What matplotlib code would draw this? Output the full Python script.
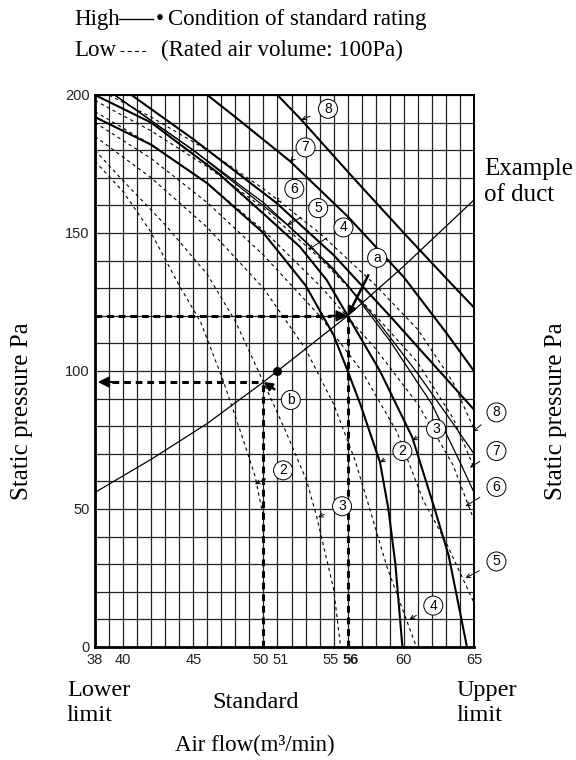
import matplotlib
matplotlib.use("Agg")
import matplotlib.pyplot as plt
from matplotlib.lines import Line2D
from matplotlib.transforms import ScaledTranslation

# ---------------- data ----------------
x_ticks = [38, 40, 45, 50, 51, 55, 56, 60, 65]
y_ticks = [0, 50, 100, 150, 200]

# High (solid) curves: (Q, P) points
H2_q = [38, 42, 46, 50, 53, 55, 56, 56.9, 58.3, 58.9, 59.4, 59.9]
H2_p = [192, 182, 168, 150, 131, 113, 100, 88, 67, 50, 30, 0]
H3_q = [38, 42, 46.7, 50, 52.6, 54.5, 56, 58.3, 60.6, 62.2, 63.2, 64.5]
H3_p = [200, 190, 172, 157, 145, 133, 120, 100, 76, 50, 33, 0]
H4_q = [39.4, 45, 50, 53.2, 56, 59, 62, 64, 65]
H4_p = [200, 180, 161, 146, 131, 111, 88, 67, 56]
H5_q = [39.4, 45, 51.7, 55, 58, 61, 63.5, 65]
H5_p = [200, 180, 153, 137, 119, 99, 81, 70]
H6_q = [40.6, 45, 50.9, 55, 59, 62, 65]
H6_p = [200, 184, 161, 142, 120, 103, 86]
H7_q = [46, 48, 51.9, 56, 60, 63, 65]
H7_p = [200, 192, 176, 156, 134, 114, 100]
H8_q = [51, 52.7, 56.4, 60, 63.5, 65]
H8_p = [200, 191, 170, 150, 131, 123]

# Low (dashed) curves
L2_q = [38, 40, 41.9, 44, 45.5, 47.1, 48.5, 49.4, 50]
L2_p = [176, 165, 151, 131, 118, 97, 76, 62, 47]
L3_q = [38, 39.8, 43, 46, 48, 50, 51.6, 53.1, 53.8, 55, 55.5]
L3_p = [180, 170, 153, 135, 118, 96, 78, 60, 47, 21, 0]
L4_q = [38, 42, 46, 50, 53, 55, 56.5, 57.4, 58.8, 60.9]
L4_p = [185, 170, 152, 130, 108, 88, 68, 53, 29, 0]
L5_q = [38, 42, 46, 50, 54, 57, 59.5, 61.4, 63, 65]
L5_p = [190, 177, 161, 142, 120, 100, 78, 53, 38, 16]
L6_q = [38, 42, 46, 50, 54, 58, 61, 63.5, 65]
L6_p = [194, 182, 168, 151, 131, 108, 88, 66, 46]
L7_q = [38, 42, 46, 50, 54, 58, 61, 63.5, 65]
L7_p = [198, 187, 174, 159, 141, 120, 103, 83, 65]
L8_q = [39, 42, 46, 50, 54, 58, 61, 63.5, 65]
L8_p = [200, 192, 180, 166, 150, 131, 115, 96, 79]

# duct resistance curve
duct_q = [38, 42, 46, 50, 51, 56, 60, 65]
duct_p = [56, 68, 81, 96, 100, 120, 138, 162]

std_point = (51, 100)
point_a = (56, 120)
point_b = (50, 96)

# label positions (text position, arrow target)
high_labels = [("8", (54.6, 195), (52.7, 191)),
               ("7", (53.0, 181), (51.9, 176)),
               ("6", (52.2, 166), (50.9, 161)),
               ("5", (53.9, 159), (51.7, 153)),
               ("4", (55.7, 152), (53.2, 144)),
               ("2", (59.9, 71), (58.3, 67)),
               ("3", (62.3, 79), (60.6, 75))]
low_labels = [("2", (51.4, 64), (49.4, 59)),
              ("3", (55.6, 51), (53.9, 47)),
              ("4", (62.1, 15), (60.4, 10)),
              ("5", (66.6, 31), (64.4, 25)),
              ("6", (66.6, 58), (64.4, 51)),
              ("7", (66.6, 71), (64.7, 65)),
              ("8", (66.6, 85), (64.9, 78))]

# ---------------- figure ----------------
W, H = 576, 760
fig = plt.figure(figsize=(W / 100, H / 100), dpi=100)
def fx(x): return x / W
def fy(y): return 1 - y / H

ax = fig.add_axes([fx(95), fy(647), fx(474) - fx(95), fy(95) - fy(647)])
ax.set_xlim(38, 65)
ax.set_ylim(0, 200)

# grid
for q in range(38, 66):
    ax.axvline(q, color="#222222", lw=0.9, zorder=1)
for p in range(0, 201, 10):
    ax.axhline(p, color="#222222", lw=0.9, zorder=1)

solid_kw = dict(color="black", lw=1.5, zorder=3)
for q, p in [(H2_q, H2_p), (H3_q, H3_p), (H6_q, H6_p), (H7_q, H7_p), (H8_q, H8_p)]:
    ax.plot(q, p, **solid_kw)
for q, p in [(H4_q, H4_p), (H5_q, H5_p)]:
    ax.plot(q, p, color="black", lw=0.9, zorder=3)

dash_kw = dict(color="black", lw=0.8, dashes=(3, 3), zorder=3)
for q, p in [(L2_q, L2_p), (L3_q, L3_p), (L4_q, L4_p), (L5_q, L5_p),
             (L6_q, L6_p), (L7_q, L7_p), (L8_q, L8_p)]:
    ax.plot(q, p, **dash_kw)

ax.plot(duct_q, duct_p, color="black", lw=0.9, zorder=3)
ax.plot(*std_point, "o", color="black", ms=5.5, zorder=5)

# thick dashed guide lines
thick = dict(color="black", lw=2.2, dashes=(2.2, 1.6), zorder=4)
ax.plot([38, point_a[0] - 1.2], [point_a[1], point_a[1]], **thick)
ax.plot([point_a[0], point_a[0]], [0, point_a[1]], **thick)
ax.plot([39.2, point_b[0]], [point_b[1], point_b[1]], **thick)
ax.plot([point_b[0], point_b[0]], [0, point_b[1]], **thick)
ax.annotate("", xy=point_a, xytext=(point_a[0] - 1.3, point_a[1]),
            arrowprops=dict(arrowstyle="-|>", color="black", lw=1.5,
                            mutation_scale=16, shrinkA=0, shrinkB=0), zorder=6)
ax.annotate("", xy=(38.2, point_b[1]), xytext=(39.5, point_b[1]),
            arrowprops=dict(arrowstyle="-|>", color="black", lw=1.5,
                            mutation_scale=16, shrinkA=0, shrinkB=0), zorder=6)

circ = dict(boxstyle="circle,pad=0.18", fc="white", ec="black", lw=0.7)
def lab(txt, pos, tgt, thick_arrow=False):
    if thick_arrow:
        ap = dict(arrowstyle="-|>", color="black", lw=1.8, mutation_scale=12,
                  shrinkA=7, shrinkB=0)
    else:
        ap = dict(arrowstyle="->", color="black", lw=0.7, mutation_scale=7,
                  shrinkA=7, shrinkB=0)
    ax.annotate(txt, xy=tgt, xytext=pos, ha="center", va="center",
                fontsize=10, family="Liberation Sans", bbox=circ,
                arrowprops=ap, annotation_clip=False, zorder=7)

for t, pos, tgt in high_labels + low_labels:
    lab(t, pos, tgt)
lab("a", (58.1, 141), point_a, thick_arrow=True)
lab("b", (51.95, 89.5), point_b, thick_arrow=True)

# axes styling
ax.set_xticks(x_ticks)
ax.set_yticks(y_ticks)
ax.tick_params(length=0, labelsize=10.5, pad=4)
for lbl in ax.get_xticklabels() + ax.get_yticklabels():
    lbl.set_family("Liberation Sans")
    lbl.set_color("#222222")
shift = {"50": -3, "51": 3, "55": -3, "56": 3}
for lbl in ax.get_xticklabels():
    t = lbl.get_text()
    if t == "56":
        lbl.set_fontweight("bold")
    if t in shift:
        lbl.set_transform(lbl.get_transform() +
                          ScaledTranslation(shift[t] / 100, 0, fig.dpi_scale_trans))
for s in ["left", "bottom"]:
    ax.spines[s].set_linewidth(2.0)
for s in ["top", "right"]:
    ax.spines[s].set_linewidth(1.4)

serif = "Liberation Serif"
fsh = 16.5
# header legend
fig.text(fx(74), fy(19), "High", family=serif, fontsize=fsh, va="center")
fig.add_artist(Line2D([fx(119), fx(153)], [fy(19), fy(19)], color="black", lw=1.0))
fig.text(fx(156), fy(19), "•", family=serif, fontsize=fsh, va="center")
fig.text(fx(168), fy(19), "Condition of standard rating", family=serif, fontsize=fsh, va="center")
fig.text(fx(74), fy(50), "Low", family=serif, fontsize=fsh, va="center")
fig.add_artist(Line2D([fx(120), fx(148)], [fy(51), fy(51)], color="black", lw=0.8,
                      dashes=(3.5, 3)))
fig.text(fx(161), fy(50), "(Rated air volume: 100Pa)", family=serif, fontsize=fsh, va="center")

fsl = 18
fig.text(fx(22), fy(411), "Static pressure Pa", family=serif, fontsize=fsl,
         rotation=90, ha="center", va="center")
fig.text(fx(556), fy(411), "Static pressure Pa", family=serif, fontsize=fsl,
         rotation=90, ha="center", va="center")
fig.text(fx(484), fy(182), "Example\nof duct", family=serif, fontsize=fsl,
         ha="left", va="center", linespacing=1.25)
fsb = 17.5
fig.text(fx(67), fy(703), "Lower\nlimit", family=serif, fontsize=fsb,
         ha="left", va="center", linespacing=1.25)
fig.text(fx(256), fy(703), "Standard", family=serif, fontsize=fsb,
         ha="center", va="center")
fig.text(fx(457), fy(703), "Upper\nlimit", family=serif, fontsize=fsb,
         ha="left", va="center", linespacing=1.25)
fig.text(fx(255), fy(745), "Air flow(m³/min)", family=serif, fontsize=16.5,
         ha="center", va="center")

fig.savefig("out.png", dpi=100)
